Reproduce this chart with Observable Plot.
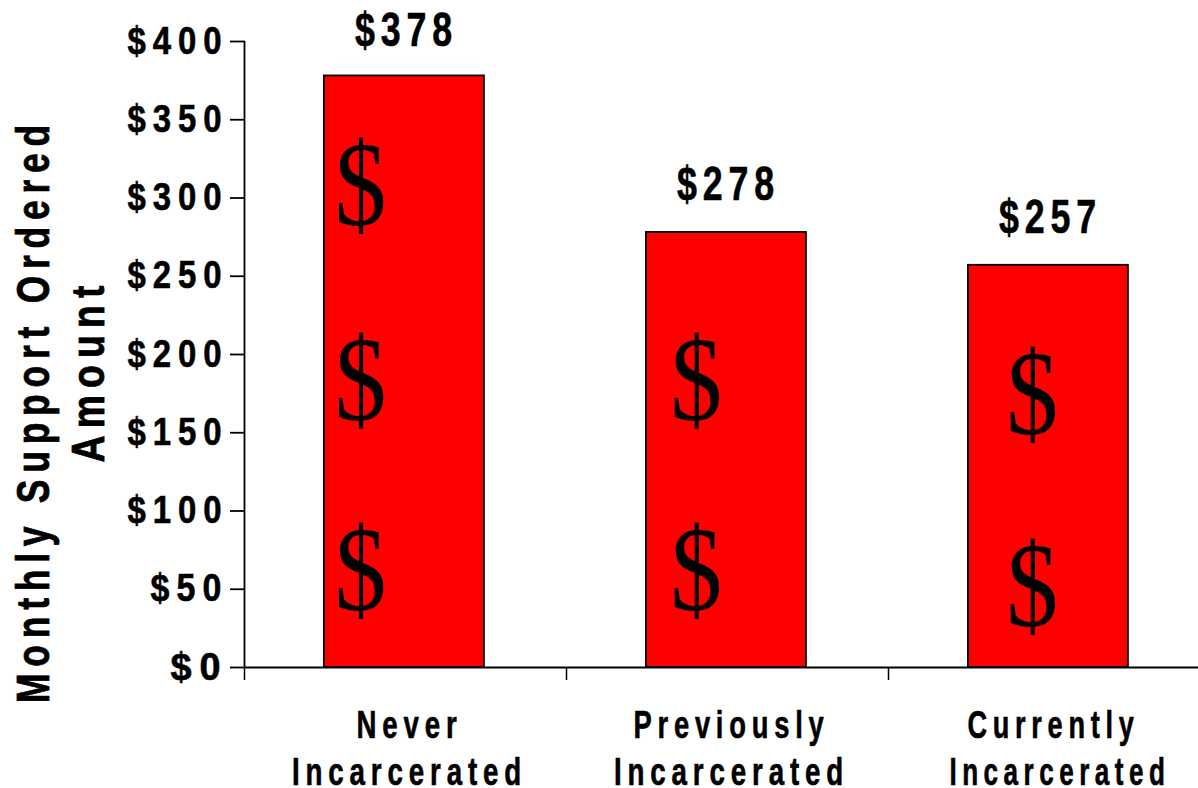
<!DOCTYPE html>
<html><head><meta charset="utf-8">
<script src="https://cdn.jsdelivr.net/npm/d3@7"></script>
<script src="https://cdn.jsdelivr.net/npm/@observablehq/plot@0.6"></script>
<style>html,body{margin:0;padding:0;background:#fff;overflow:hidden}svg{display:block}
.lab text,.ytick text,.cat text{letter-spacing:8px;stroke:#000;stroke-width:.6px}
.ttl text{letter-spacing:9px;stroke:#000;stroke-width:.8px}
</style>
</head><body><div id="c"></div>
<script>
const catLine1=["Never","Previously","Currently"];
const catLine2=["Incarcerated","Incarcerated","Incarcerated"];
const catWidth1=[106,196,172];
const catWidth2=[235,235,221];
const values=[378,278,257];
const labelY=[407,309,287.5];
const barStart=[0.245,1.245,2.245];
const barEnd=[0.742,1.742,2.742];
const catPos1=[0.5,1.5,2.5];
const catPos2=[0.5,1.5,2.52];
const yTicks=[0,50,100,150,200,250,300,350,400];
const xTicks=[0,1,2];
const rows=values.map((v,i)=>({v,x1:barStart[i],x2:barEnd[i],ly:labelY[i],p1:catPos1[i],p2:catPos2[i],a:catLine1[i],b:catLine2[i]}));
const glyphX=[0.357,0.357,0.357,1.4,1.4,2.443,2.443];
const glyphY=[307,183,61,183,61,174,51];
const glyphs=glyphX.map((x,k)=>({x,y:glyphY[k]}));
const sans='"Liberation Sans",Arial,sans-serif';
const plot=Plot.plot({
 width:1198,height:788,marginLeft:245,marginRight:0,marginTop:41,marginBottom:121,
 style:{fontFamily:sans,background:"#fff",overflow:"hidden"},
 x:{type:"linear",domain:[0,3],range:[245,1211],label:null},
 y:{domain:[0,400],label:null},
 marks:[
  Plot.rectY(rows,{x1:"x1",x2:"x2",y1:0,y2:"v",fill:"#ff0000",stroke:"#000",strokeWidth:1.8}),
  Plot.text(glyphs,{x:"x",y:"y",text:()=>"$",fontFamily:'"Liberation Serif",serif',fontSize:120,fill:"#000",className:"glyph"}),
  Plot.text(rows,{x:d=>(d.x1+d.x2)/2,y:"ly",text:d=>"$"+d.v,dx:2,fontSize:49,fontWeight:"bold",fill:"#000",className:"lab"}),
  Plot.ruleY([0],{stroke:"#000",strokeWidth:1.8}),
  Plot.ruleX([0],{y1:0,y2:400,stroke:"#000",strokeWidth:1.8,dx:-1}),
  Plot.axisX({ticks:xTicks,tickFormat:()=>"",tickSize:13,anchor:"bottom",stroke:"#000",strokeWidth:1.5,label:null,dx:-1}),
  Plot.axisY({ticks:yTicks,tickFormat:d=>"$"+d,tickSize:15,fontSize:38,fontWeight:"bold",anchor:"left",tickPadding:2,label:null,stroke:"#000",strokeWidth:1.8,fill:"#000",className:"ytick"}),
  Plot.text(rows,{x:"p1",y:0,text:"a",dx:3,dy:58,fontSize:38,fontWeight:"bold",fill:"#000",className:"cat"}),
  Plot.text(rows,{x:"p2",y:0,text:"b",dx:3,dy:105,fontSize:38,fontWeight:"bold",fill:"#000",className:"cat"}),
  Plot.text(["Monthly Support Ordered"],{frameAnchor:"left",textAnchor:"middle",rotate:-90,dx:-212,dy:56,fontSize:47,fontWeight:"bold",fill:"#000",className:"ttl"}),
  Plot.text(["Amount"],{frameAnchor:"left",textAnchor:"middle",rotate:-90,dx:-157,dy:16,fontSize:47,fontWeight:"bold",fill:"#000",className:"ttl"})
 ]
});
document.getElementById("c").append(plot);
// Fit each label to its measured width in the reference (condensed lettering).
const squeeze=(t,w)=>{t.setAttribute("textLength",w);t.setAttribute("lengthAdjust","spacingAndGlyphs");};
const tickWidth={"$0":58,"$50":78};
plot.querySelectorAll(".ytick text").forEach(t=>{squeeze(t,tickWidth[t.textContent]||101);});
plot.querySelectorAll(".lab text").forEach(t=>squeeze(t,103));
plot.querySelectorAll(".glyph text").forEach(t=>squeeze(t,52));
const cats=[...plot.querySelectorAll(".cat text")];
catWidth1.concat(catWidth2).forEach((w,i)=>squeeze(cats[i],w));
const ttl=[...plot.querySelectorAll(".ttl text")];
squeeze(ttl[0],585);squeeze(ttl[1],184);
</script></body></html>
